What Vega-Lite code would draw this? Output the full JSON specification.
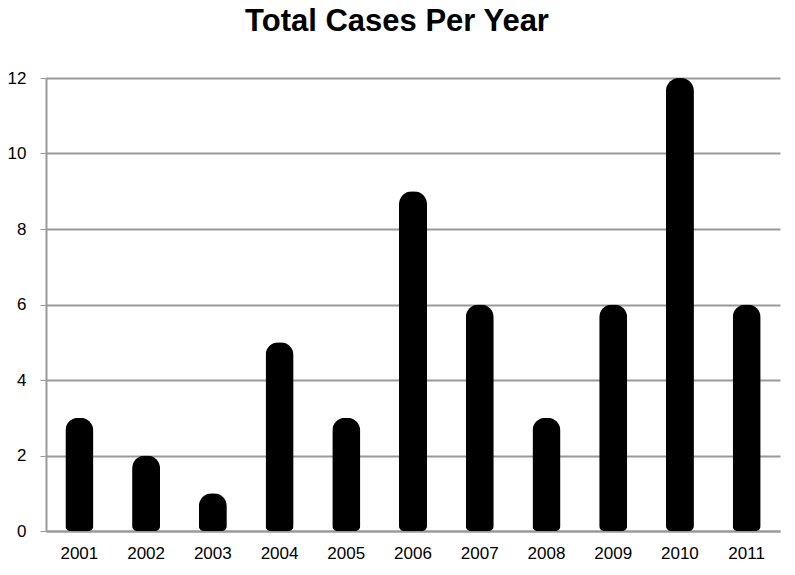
{
  "$schema": "https://vega.github.io/schema/vega-lite/v6.json",
  "autosize": {"type": "none"},
  "width": 734,
  "height": 453,
  "padding": {"left": 46, "top": 78, "right": 15, "bottom": 44},
  "background": "white",
  "title": {
    "text": "Total Cases Per Year",
    "font": "Liberation Sans",
    "fontSize": 31,
    "fontWeight": "bold",
    "color": "black",
    "anchor": "middle",
    "dx": -16,
    "offset": 31
  },
  "data": {
    "values": [
      {"year": "2001", "cases": 3},
      {"year": "2002", "cases": 2},
      {"year": "2003", "cases": 1},
      {"year": "2004", "cases": 5},
      {"year": "2005", "cases": 3},
      {"year": "2006", "cases": 9},
      {"year": "2007", "cases": 6},
      {"year": "2008", "cases": 3},
      {"year": "2009", "cases": 6},
      {"year": "2010", "cases": 12},
      {"year": "2011", "cases": 6}
    ]
  },
  "mark": {
    "type": "bar",
    "color": "black",
    "cornerRadiusTopLeft": 13,
    "cornerRadiusTopRight": 13,
    "cornerRadiusBottomLeft": 5,
    "cornerRadiusBottomRight": 5
  },
  "encoding": {
    "x": {
      "field": "year",
      "type": "nominal",
      "scale": {"paddingInner": 0.58, "paddingOuter": 0.29},
      "axis": {
        "title": null,
        "labelAngle": 0,
        "labelFont": "Liberation Sans",
        "labelFontSize": 17,
        "labelColor": "black",
        "labelPadding": 14,
        "ticks": false,
        "domainColor": "#999999",
        "domainWidth": 2
      }
    },
    "y": {
      "field": "cases",
      "type": "quantitative",
      "scale": {"domain": [0, 12]},
      "axis": {
        "title": null,
        "values": [0, 2, 4, 6, 8, 10, 12],
        "labelFont": "Liberation Sans",
        "labelFontSize": 17,
        "labelColor": "black",
        "labelPadding": 14,
        "tickSize": 6,
        "tickColor": "#999999",
        "domainColor": "#999999",
        "domainWidth": 2,
        "gridColor": "#999999",
        "gridWidth": 2
      }
    }
  },
  "config": {"view": {"stroke": null}}
}
